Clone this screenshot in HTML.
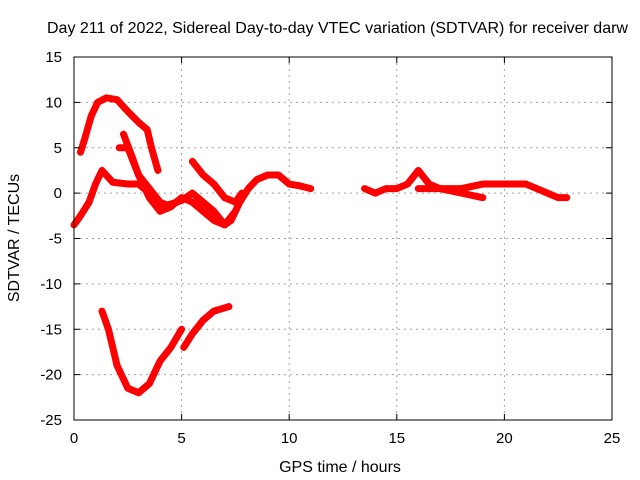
<!DOCTYPE html>
<html><head><meta charset="utf-8"><style>
body{margin:0;background:#fff;}
svg{display:block;font-family:"Liberation Sans",sans-serif;}
</style></head><body>
<svg id="c" width="640" height="480" xmlns="http://www.w3.org/2000/svg">
<rect width="640" height="480" fill="#fff"/>
<g id="grid"></g>
<g id="series"></g>
<rect x="74" y="57" width="538" height="363" fill="none" stroke="#000" stroke-width="1"/>
<g id="ticks"></g>
<text x="47" y="33" font-size="16">Day 211 of 2022, Sidereal Day-to-day VTEC variation (SDTVAR) for receiver darw</text>
<text x="340" y="472" font-size="16" text-anchor="middle">GPS time / hours</text>
<text x="19" y="238" font-size="16" text-anchor="middle" transform="rotate(-90 19 238)">SDTVAR / TECUs</text>
</svg>
<script>
const xTicks=[0,5,10,15,20,25];
const yTicks=[15,10,5,0,-5,-10,-15,-20,-25];
const s1=[[0.3,4.5],[0.5,6],[0.8,8.5],[1.1,10],[1.5,10.5],[2,10.3],[2.5,9],[3,7.8],[3.4,7],[3.6,5],[3.9,2.5]];
const s2=[[0,-3.5],[0.3,-2.5],[0.7,-1],[1,1],[1.3,2.5],[1.8,1.2],[2.5,1],[3,1],[3.5,0],[4,-1.5],[4.5,-1.2],[5,-0.8],[5.5,0],[6,-1],[6.5,-2],[7,-3.5],[7.3,-3],[7.7,-1],[8.1,0.5],[8.5,1.5],[9,2],[9.5,2],[10,1],[10.5,0.8],[11,0.5]];
const s3=[[2.1,5],[2.5,5],[3,2],[3.5,0.5],[4,-1],[4.5,-1.5],[5,-0.5],[5.5,-1],[6,-2],[6.5,-3],[7,-3.5],[7.5,-2]];
const s4=[[2.3,6.5],[2.7,4],[3,2],[3.5,-0.5],[4,-2],[4.5,-1.5]];
const s5=[[5.5,3.5],[6,2],[6.5,1],[7,-0.5],[7.5,-1],[7.8,0]];
const s6=[[1.3,-13],[1.6,-15],[2,-19],[2.5,-21.5],[3,-22],[3.5,-21],[4,-18.5],[4.5,-17],[5,-15]];
const s7=[[5.1,-17],[5.5,-15.5],[6,-14],[6.5,-13],[7.2,-12.5]];
const s8=[[13.5,0.5],[14,0],[14.5,0.5],[15,0.5],[15.5,1],[16,2.5],[16.5,1],[17,0.5],[18,0.5],[19,1],[20,1],[21,1],[21.5,0.5],[22,0],[22.5,-0.5],[22.9,-0.5]];
const s9=[[16,0.5],[17,0.5],[18,0],[19,-0.5]];
const allSeries=[s1,s2,s3,s4,s5,s6,s7,s8,s9];
const NS="http://www.w3.org/2000/svg";
const X=v=>74+(v-0)*538/25;
const Y=v=>57+(15-v)*363/40;
const g=document.getElementById('grid'),t=document.getElementById('ticks'),sg=document.getElementById('series');
function mk(tag,a,p){const e=document.createElementNS(NS,tag);for(const k in a)e.setAttribute(k,a[k]);p.appendChild(e);return e;}
xTicks.forEach(v=>{
 const l=mk('line',{x1:X(v),x2:X(v),y1:57,y2:420,stroke:'#a0a0a0','stroke-dasharray':'2,4'},g);
 
 
 const tx=mk('text',{x:X(v),y:443,'font-size':15,'text-anchor':'middle'},t);tx.textContent=v;
 
 
 mk('line',{x1:X(v),x2:X(v),y1:420,y2:414,stroke:'#000'},t);
 mk('line',{x1:X(v),x2:X(v),y1:57,y2:63,stroke:'#000'},t);
});
yTicks.forEach(v=>{
 const l=mk('line',{x1:74,x2:612,y1:Y(v),y2:Y(v),stroke:'#a0a0a0','stroke-dasharray':'2,4'},g);
 
 
 const tx=mk('text',{x:62,y:Y(v)+5,'font-size':15,'text-anchor':'end'},t);tx.textContent=v;
 
 
 mk('line',{x1:74,x2:80,y1:Y(v),y2:Y(v),stroke:'#000'},t);
 mk('line',{x1:612,x2:606,y1:Y(v),y2:Y(v),stroke:'#000'},t);
});
allSeries.forEach((s,i)=>{
 const p=mk('polyline',{points:s.map(d=>X(d[0])+','+Y(d[1])).join(' '),fill:'none',stroke:'#ff0000','stroke-width':7,'stroke-linejoin':'round','stroke-linecap':'round'},sg);
 
 
});
</script>
</body></html>
